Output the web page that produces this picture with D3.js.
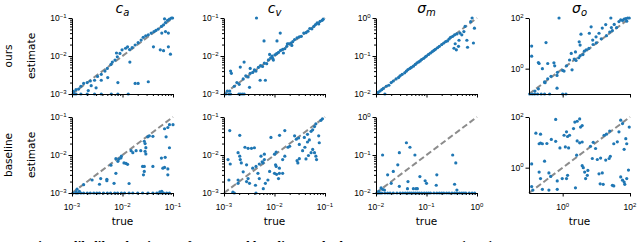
<!DOCTYPE html>
<html>
<head>
<meta charset="utf-8">
<script src="https://cdn.jsdelivr.net/npm/d3@7"></script>
<style>
  body { margin: 0; background: #fff; }
  svg { display: block; font-family: "DejaVu Sans", sans-serif; }
</style>
</head>
<body>
<div id="chart-area"></div>
<script>
// Data: [true, estimate] pairs
const caOurs = [
  [1.1e-3,1e-3],[1.2e-3,1e-3],[1.5e-3,1e-3],[2e-3,1e-3],[2.8e-3,1e-3],[3.8e-3,1e-3],[6e-3,1e-3],[8.1e-3,1e-3],[1.3e-2,1e-3],
  [1.07e-3,1.17e-3],[1.2e-3,1.3e-3],[1.35e-3,1.35e-3],[1.5e-3,1.6e-3],[1.7e-3,1.9e-3],[2e-3,2e-3],[2.3e-3,2.2e-3],
  [2.8e-3,2.3e-3],[3.2e-3,2.9e-3],[3.8e-3,3.3e-3],[4.5e-3,4e-3],[5e-3,4.7e-3],[5.9e-3,6e-3],[6.3e-3,6.9e-3],
  [7.1e-3,7.8e-3],[7.9e-3,9.5e-3],[8.9e-3,1.17e-2],[9.8e-3,1.45e-2],[1.15e-2,1.6e-2],[1.26e-2,1.74e-2],
  [1.38e-2,1.48e-2],[1.55e-2,1.66e-2],[1.78e-2,1.95e-2],[2.04e-2,2.24e-2],[2.34e-2,2.63e-2],[2.57e-2,3.1e-2],
  [2.88e-2,3.4e-2],[3.24e-2,3.6e-2],[3.7e-2,4e-2],[4.2e-2,4.4e-2],[4.6e-2,4.7e-2],[5.1e-2,5.1e-2],[5.9e-2,6e-2],
  [6.5e-2,6.6e-2],[7.1e-2,7.6e-2],[7.8e-2,8.7e-2],[8.5e-2,9.3e-2],[9.3e-2,1e-1],[9.8e-2,1e-1],[6.8e-2,9.5e-2],
  [7.6e-3,1.2e-2],[1.4e-2,6.9e-3],[4.1e-2,1.74e-2],[5.6e-2,1.45e-2],[6.5e-2,1.38e-2],[8.1e-2,1.74e-2],[8.9e-2,1.12e-2],
  [6e-2,4e-2],[8.1e-2,4e-2],[7.1e-2,4.4e-2],
  [3.8e-3,2.3e-3],[5.1e-3,2.7e-3],[8.1e-3,2e-3],[1.78e-2,1.9e-3],[2.04e-2,1.9e-3],[3.24e-2,2.1e-3],
  [2.4e-3,1.66e-3],[3e-3,1.45e-3],[2.1e-3,1.23e-3]
];
const cvOurs = [
  [4.4e-3,1e-1],[6.2e-3,2.5e-2],[1.3e-2,4e-2],[1.12e-2,2.5e-2],[1.35e-3,4e-3],[1.4e-3,3.5e-3],[2.5e-3,6.9e-3],
  [2.1e-3,5.1e-3],[3.3e-3,4.7e-3],[3.2e-3,1.5e-3],[5.2e-3,2.3e-3],[6.6e-3,2.3e-3],[1.8e-2,2.1e-2],[9.5e-3,7.8e-3],
  [1.08e-3,1e-3],[1.25e-3,1e-3],[1.35e-3,1e-3],[1.97e-3,1e-3],[2.1e-3,1e-3],[2.3e-3,1e-3],[2.5e-3,1e-3],[1.16e-3,1.2e-3],
  [1.3e-3,1.2e-3],[1.6e-3,1.6e-3],[1.8e-3,2e-3],[2e-3,1.8e-3],[2.4e-3,2.5e-3],[2.7e-3,3e-3],[3e-3,2.8e-3],
  [3.3e-3,3.5e-3],[3.7e-3,3.7e-3],[4e-3,4.3e-3],[4.3e-3,4e-3],[4.8e-3,5e-3],[5.3e-3,5.6e-3],[5.8e-3,5.3e-3],
  [6.3e-3,6.5e-3],[7e-3,6.3e-3],[7.6e-3,7.9e-3],[8.4e-3,9e-3],[9.2e-3,8.7e-3],[1.02e-2,1.08e-2],[1.1e-2,1.15e-2],
  [1.2e-2,1.25e-2],[1.32e-2,1.4e-2],[1.45e-2,1.5e-2],[1.6e-2,1.55e-2],[1.75e-2,1.8e-2],[1.9e-2,2.1e-2],
  [2.1e-2,2.2e-2],[2.3e-2,2.4e-2],[2.5e-2,2.7e-2],[2.8e-2,3e-2],[3.1e-2,3.2e-2],[3.4e-2,3.3e-2],[3.8e-2,4e-2],
  [4.2e-2,4.1e-2],[4.6e-2,4.5e-2],[5e-2,5.3e-2],[5.5e-2,5.2e-2],[6e-2,6e-2],[6.5e-2,6.7e-2],[7e-2,7.4e-2],
  [7.5e-2,7e-2],[8e-2,8.2e-2],[8.8e-2,8.7e-2],[9.2e-2,9.3e-2],
  [8e-3,1.1e-2],[1.5e-2,1.2e-2],[2.2e-2,1.9e-2],[9e-3,1e-2]
];
const smOurs = [
  [0.011,0.011],[0.012,0.012],[0.013,0.013],[0.014,0.014],[0.016,0.016],[0.018,0.017],[0.02,0.02],[0.022,0.022],
  [0.025,0.025],[0.028,0.027],[0.03,0.03],[0.033,0.033],[0.037,0.036],[0.04,0.04],[0.043,0.044],[0.047,0.047],
  [0.05,0.05],[0.055,0.054],[0.06,0.06],[0.065,0.066],[0.07,0.07],[0.075,0.074],[0.08,0.081],[0.088,0.087],
  [0.095,0.095],[0.1,0.1],[0.11,0.11],[0.12,0.12],[0.13,0.13],[0.14,0.14],[0.15,0.15],[0.165,0.165],[0.18,0.18],
  [0.2,0.2],[0.22,0.22],[0.24,0.24],[0.26,0.25],[0.28,0.28],[0.3,0.31],[0.33,0.33],[0.36,0.36],[0.4,0.38],
  [0.015,0.01],[0.37,0.21],[0.44,0.26],[0.39,0.145],[0.35,0.16],[0.5,0.36],[0.55,0.44],[0.63,0.26],[0.65,0.17],
  [0.85,0.22],[0.89,0.54],[0.8,1.0],[0.75,0.8],[0.58,0.6],[0.46,0.4],[0.43,0.18]
];
const soOurs = [
  [0.12,7.8],[0.12,3.1],[0.32,10.7],[0.78,100],[0.19,1.74],[0.2,1.6],[0.25,1.0],[0.36,1.6],[0.55,1.7],[0.58,1.3],
  [0.68,0.54],[0.36,0.4],[0.29,0.3],[0.19,0.16],[0.15,0.13],[0.68,0.17],[1.0,0.85],[1.1,0.8],[1.3,1.3],[1.6,2.2],
  [1.8,4],[1.9,0.9],[2.2,2.4],[2.5,2.1],[3,2.7],[4,3.6],[2.4,4.6],[3.3,3.2],[4.4,4.9],[5,5.5],[3.1,11.5],[3.3,8.5],
  [3.5,23],[6.2,25],[7,45],[7.8,13.5],[9.8,18],[12,25],[15,40],[19,55],[27,100],[28,42],[34,56],[47,72],[53,85],
  [60,80],[67,90],[75,95],[85,100],[95,100],[80,75],
  [0.105,0.1],[0.125,0.1],[0.147,0.1],[0.18,0.1],[0.23,0.1],[0.29,0.1],[0.41,0.1],[1.0,0.1],[1.25,0.1],
  [0.3,0.28],[0.45,0.5],[0.7,0.72],[6,6.3],[8,9],[10,10.5],[14,15],[20,20],[25,28],[30,32],[40,42]
];
const caBase = [
  [1.05e-3,1e-3],[1.2e-3,1e-3],[1.3e-3,1e-3],[1.5e-3,1e-3],[1.7e-3,1e-3],[2e-3,1e-3],[2.3e-3,1e-3],[2.7e-3,1e-3],
  [3.1e-3,1e-3],[3.5e-3,1e-3],[4.2e-3,1e-3],[5e-3,1e-3],[5.8e-3,1e-3],[7e-3,1e-3],[8e-3,1e-3],[9.5e-3,1e-3],
  [1.1e-2,1e-3],[1.35e-2,1e-3],[1.6e-2,1e-3],[2e-2,1e-3],[2.5e-2,1e-3],[3.2e-2,1e-3],[4e-2,1e-3],[4.8e-2,1e-3],
  [5.5e-2,1e-3],[6.5e-2,1e-3],[7.5e-2,1e-3],[8.5e-2,1e-3],[1.2e-3,1.07e-3],[1.4e-3,1.1e-3],[6e-2,1.1e-3],[5.5e-2,1.07e-3],
  [1.26e-3,1.26e-3],[1.7e-3,1.66e-3],[2.5e-3,2.2e-3],[3.5e-3,1.7e-3],[4.9e-3,2.3e-3],[4.9e-3,2.1e-3],[5.9e-3,5.4e-3],
  [7.4e-3,3.3e-3],[6.8e-3,1.8e-3],[8.1e-3,6.8e-3],[8.5e-3,7.8e-3],[9.3e-3,8.4e-3],[9.5e-3,9.3e-3],[1.07e-2,6.2e-3],
  [1.17e-2,6e-3],[1.26e-2,5.7e-3],[1.35e-2,1.78e-3],[1.48e-2,1.3e-2],[1.6e-2,1.15e-2],[1.86e-2,1.3e-2],[2.3e-2,1.3e-2],
  [2.7e-2,2.3e-2],[2.8e-2,2.0e-2],[2.9e-2,1.56e-2],[2.8e-2,1.25e-2],[2.9e-2,1.07e-2],[3.16e-2,3.0e-2],[3.4e-2,3.2e-2],
  [4e-2,3.1e-2],[2.5e-2,5e-3],[2.7e-2,5e-3],[2.7e-2,3.7e-3],[2.6e-2,3e-3],[4e-2,5e-3],[5.9e-2,8.3e-3],[7e-2,8.7e-3],
  [6.3e-2,4.5e-3],[6.8e-2,4.7e-3],[7.9e-2,4.3e-3],[7.9e-2,3e-3],[8.5e-2,1.55e-2],[7.3e-2,3e-2],[6.8e-2,4.9e-2],
  [7.9e-2,5.3e-2],[8.5e-2,6.3e-2],[1e-1,6.3e-2],[7.4e-3,8e-3],[3.7e-3,2.4e-3]
];
const cvBase = [
  [1.3e-3,4.4e-2],[1.2e-3,7.6e-3],[1.33e-3,5.8e-3],[1.25e-3,2.2e-3],[1.5e-3,1.05e-3],[1.6e-3,1e-3],[2.05e-3,3.3e-2],
  [1.9e-3,1.15e-2],[2.05e-3,9.3e-3],[2.1e-3,7.6e-3],[2.2e-3,6.2e-3],[1.9e-3,2.2e-3],[1.9e-3,1.8e-3],[2.6e-3,1.6e-2],
  [3e-3,1.5e-2],[3.5e-3,1.5e-2],[4e-3,1.55e-2],[2.8e-3,5.5e-3],[2.4e-3,3.6e-3],[2.8e-3,2e-3],[3e-3,2.4e-3],
  [3.2e-3,1.8e-3],[3.7e-3,4.5e-3],[4.3e-3,5e-3],[4.7e-3,3.3e-3],[5e-3,2.4e-3],[4.2e-3,1.6e-3],[4.3e-3,1e-3],
  [5e-3,5.8e-3],[5.7e-3,6.6e-3],[5.9e-3,6.2e-3],[6.3e-3,7.6e-3],[5.4e-3,9.3e-3],[6.3e-3,1.05e-2],[7.4e-3,2.2e-3],
  [6.6e-3,1.8e-3],[6e-3,1.3e-3],[8.5e-3,2.9e-2],[8e-3,3.7e-3],[1e-2,1.05e-2],[1.08e-2,1.2e-2],[1.05e-2,5.5e-3],
  [1.08e-2,5e-3],[1.25e-2,4.5e-3],[1e-2,3.3e-3],[1.1e-2,3.1e-3],[1.25e-2,3.3e-3],[1.45e-2,3.3e-3],[1.2e-2,2.4e-3],
  [1.26e-2,3.3e-2],[1.6e-2,4.4e-2],[1.6e-2,9.3e-3],[1.45e-2,7.6e-3],[2e-2,1.7e-2],[1.85e-2,1.6e-2],[2.5e-2,3.2e-2],
  [2.7e-2,2.6e-2],[3e-2,2.8e-2],[2.8e-2,7.1e-3],[2.9e-2,6.2e-3],[3.1e-2,8e-3],[3.1e-2,1.9e-2],[3.6e-2,1.3e-2],
  [4e-2,1.6e-2],[3.9e-2,2.9e-2],[4.5e-2,3.5e-2],[5.3e-2,4.2e-2],[5.7e-2,4.6e-2],[4.2e-2,7.9e-3],[4.7e-2,9.7e-3],
  [5.3e-2,1.15e-2],[5.7e-2,1.4e-2],[6.2e-2,1.15e-2],[6.6e-2,9.3e-3],[6.8e-2,7.6e-3],[6.2e-2,5.6e-2],[6.6e-2,6.6e-2],
  [7.5e-2,3.2e-2],[7.7e-2,2.1e-2],[8.3e-2,8.2e-2],[8.9e-2,9e-2],[4.5e-2,2.2e-2],[4.9e-2,2.5e-2]
];
const smBase = [
  [0.0105,0.01],[0.011,0.01],[0.012,0.01],[0.013,0.01],[0.015,0.01],[0.017,0.01],[0.019,0.01],[0.022,0.01],
  [0.026,0.01],[0.03,0.01],[0.034,0.01],[0.038,0.01],[0.042,0.01],[0.046,0.01],[0.05,0.01],[0.055,0.01],
  [0.06,0.01],[0.066,0.01],[0.072,0.01],[0.08,0.01],[0.09,0.01],[0.1,0.01],[0.11,0.01],[0.12,0.01],[0.14,0.01],
  [0.16,0.01],[0.18,0.01],[0.2,0.01],[0.22,0.01],[0.25,0.01],[0.28,0.01],[0.32,0.01],[0.36,0.01],[0.4,0.01],
  [0.45,0.01],[0.5,0.01],[0.55,0.01],[0.6,0.01],[0.7,0.01],[0.8,0.01],[0.9,0.01],
  [0.0135,0.1],[0.017,0.03],[0.022,0.037],[0.02,0.018],[0.0126,0.0136],[0.0135,0.0125],[0.0113,0.011],[0.0147,0.012],
  [0.027,0.055],[0.029,0.115],[0.029,0.015],[0.04,0.21],[0.047,0.16],[0.042,0.013],[0.043,0.02],[0.059,0.1],
  [0.055,0.013],[0.062,0.013],[0.066,0.013],[0.074,0.027],[0.094,0.021],[0.1,0.018],[0.16,0.03],[0.156,0.016],
  [0.33,0.1],[0.38,0.062],[0.36,0.017],[0.4,0.012]
];
const soBase = [
  [0.62,80],[0.16,23],[0.22,21],[0.2,8.8],[0.22,9.4],[0.25,8.8],[0.34,9],[0.46,13],[0.62,11],[0.83,6],[0.12,1.4],
  [0.29,1.8],[0.2,0.67],[0.39,0.62],[0.44,0.45],[0.22,0.37],[0.12,0.18],[0.13,0.13],[0.25,0.14],[0.39,0.13],
  [0.69,0.14],[0.69,0.3],[0.97,0.37],[1.3,0.37],[1.4,0.5],[1.1,19],[1.3,26],[1.4,17],[1.6,19],[1.2,6.6],[1.5,6],
  [2.1,35],[2.3,63],[2.7,68],[3.2,84],[2.7,11.4],[3.2,9.6],[3.8,10.3],[2.6,3.1],[2.4,0.16],[3.4,40],[3.8,46],
  [3.8,1.2],[4.1,1],[4.5,0.67],[5.4,0.5],[5.6,0.78],[4.8,0.37],[6.7,7],[8.1,10],[9.5,5.7],[7.6,2.3],[10.7,2.1],
  [13.4,2.4],[12,0.57],[15,0.62],[13,0.23],[16,0.22],[17,19],[20,21],[25,28],[19,2],[24,2.3],[26,2.8],[30,0.2],
  [33,0.19],[33,8.8],[42,10.5],[47,26],[53,75],[60,55],[53,0.43],[60,0.32],[67,0.27],[70,0.22],[80,0.37],[90,0.8],
  [67,5.3],[75,14],[80,8.8],[95,40]
];

// Column setup: title, axis range, labelled ticks
const titles = [['c', 'a'], ['c', 'v'], ['σ', 'm'], ['σ', 'o']];
const domains = [[1e-3, 1e-1], [1e-3, 1e-1], [1e-2, 1e0], [1e-1, 1e2]];
const tickValues = [[1e-3, 1e-2, 1e-1], [1e-3, 1e-2, 1e-1], [1e-2, 1e-1, 1e0], [1e0, 1e2]];
const hasMinor = [true, true, true, false];
const rowNames = ['ours', 'baseline'];
const rowData = [[caOurs, cvOurs, smOurs, soOurs], [caBase, cvBase, smBase, soBase]];

const W = 640, H = 242;
const colLeft = [72, 224, 376, 529];
const rowTop = [18, 117];
const pw = 101, ph = 76;

const svg = d3.select('#chart-area').append('svg')
  .attr('width', W).attr('height', H);

function minorTicks(dom) {
  const out = [];
  const lo = Math.round(Math.log10(dom[0])), hi = Math.round(Math.log10(dom[1]));
  for (let e = lo; e < hi; e++) {
    for (let m = 2; m <= 9; m++) out.push(m * Math.pow(10, e));
  }
  return out;
}

function powLabel(sel, v) {
  const e = Math.round(Math.log10(v));
  sel.text('10');
  sel.append('tspan')
    .attr('dy', -3.5)
    .attr('font-size', '6px')
    .text(String(e).replace('-', '\u2212'));
}

rowData.forEach((row, r) => {
  row.forEach((data, c) => {
    const g = svg.append('g')
      .attr('transform', 'translate(' + colLeft[c] + ',' + rowTop[r] + ')');

    const x = d3.scaleLog().domain(domains[c]).range([0, pw]);
    const y = d3.scaleLog().domain(domains[c]).range([ph, 0]);

    // y = x reference line
    g.append('line')
      .attr('x1', x(domains[c][0])).attr('y1', y(domains[c][0]))
      .attr('x2', x(domains[c][1])).attr('y2', y(domains[c][1]))
      .attr('stroke', '#8c8c8c')
      .attr('stroke-width', 2)
      .attr('stroke-dasharray', '6,3');

    // points
    g.selectAll('circle')
      .data(data)
      .enter().append('circle')
        .attr('cx', d => x(d[0]))
        .attr('cy', d => y(d[1]))
        .attr('r', 1.6)
        .attr('fill', '#1f77b4');

    // x axis
    const xAxis = g.append('g').attr('transform', 'translate(0,' + ph + ')');
    xAxis.call(d3.axisBottom(x).tickValues(tickValues[c]).tickSize(3.5).tickSizeOuter(0).tickFormat(''));
    if (hasMinor[c]) {
      xAxis.append('g').call(d3.axisBottom(x).tickValues(minorTicks(domains[c])).tickSize(2).tickSizeOuter(0).tickFormat(''))
        .select('.domain').remove();
    }
    if (r === 1) {
      xAxis.selectAll('.xlab').data(tickValues[c]).enter().append('text')
        .attr('class', 'xlab')
        .attr('x', d => x(d))
        .attr('y', 17)
        .attr('text-anchor', 'middle')
        .attr('font-size', '8.5px')
        .attr('fill', '#000')
        .each(function(d) { powLabel(d3.select(this), d); });
    }

    // y axis
    const yAxis = g.append('g');
    yAxis.call(d3.axisLeft(y).tickValues(tickValues[c]).tickSize(3.5).tickSizeOuter(0).tickFormat(''));
    if (hasMinor[c]) {
      yAxis.append('g').call(d3.axisLeft(y).tickValues(minorTicks(domains[c])).tickSize(2).tickSizeOuter(0).tickFormat(''))
        .select('.domain').remove();
    }
    yAxis.selectAll('.ylab').data(tickValues[c]).enter().append('text')
      .attr('class', 'ylab')
      .attr('x', -5.5)
      .attr('y', d => y(d) + 3)
      .attr('text-anchor', 'end')
      .attr('font-size', '8.5px')
      .attr('fill', '#000')
      .each(function(d) { powLabel(d3.select(this), d); });

    g.selectAll('.domain').attr('stroke-width', 1);

    // column title
    if (r === 0) {
      const t = g.append('text')
        .attr('x', pw / 2)
        .attr('y', -5)
        .attr('text-anchor', 'middle')
        .attr('font-size', '14px')
        .attr('font-style', 'italic')
        .text(titles[c][0]);
      t.append('tspan')
        .attr('dy', 3)
        .attr('font-size', '10px')
        .text(titles[c][1]);
    }

    // x label
    if (r === 1) {
      g.append('text')
        .attr('x', pw / 2)
        .attr('y', ph + 32)
        .attr('text-anchor', 'middle')
        .attr('font-size', '10.5px')
        .text('true');
    }
  });

  // row labels
  const cy = rowTop[r] + ph / 2;
  svg.append('text')
    .attr('transform', 'translate(12,' + cy + ') rotate(-90)')
    .attr('text-anchor', 'middle')
    .attr('font-size', '10.5px')
    .text(rowNames[r]);
  svg.append('text')
    .attr('transform', 'translate(35,' + cy + ') rotate(-90)')
    .attr('text-anchor', 'middle')
    .attr('font-size', '10.5px')
    .text('estimate');
});

// caption, cut off at the bottom edge as in the source figure
const cap = svg.append('text')
  .attr('x', 0)
  .attr('y', 250)
  .attr('font-family', '"Liberation Serif", serif')
  .attr('font-size', '13px');
cap.append('tspan').attr('font-weight', 'bold').text('8.  Maximum likelihood estimates for our and baseline method.');
cap.append('tspan').text(' True parameters are plotted against estimates.');
</script>
</body>
</html>
